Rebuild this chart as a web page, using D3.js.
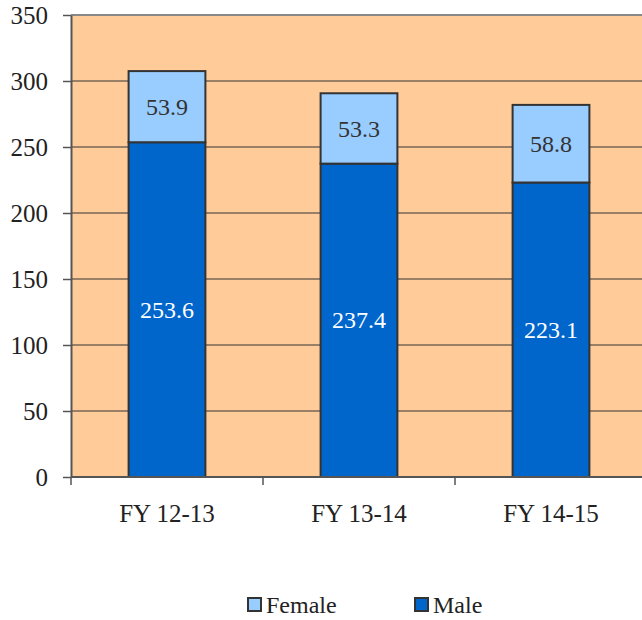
<!DOCTYPE html>
<html>
<head>
<meta charset="utf-8">
<script src="https://cdn.jsdelivr.net/npm/d3@7"></script>
</head>
<body style="margin:0">
<svg id="chart" width="642" height="620" font-family="Times New Roman"></svg>
<script>
// Data
const categories = ["FY 12-13", "FY 13-14", "FY 14-15"];
const male = [253.6, 237.4, 223.1];
const female = [53.9, 53.3, 58.8];
const yTicks = [0, 50, 100, 150, 200, 250, 300, 350];
const seriesNames = ["Male", "Female"];

const colors = { Male: "#0066CC", Female: "#99CCFF" };

const svg = d3.select("#chart");
const plotLeft = 71, plotRight = 647, plotTop = 15, plotBottom = 477;

const x = d3.scaleBand().domain(categories).range([plotLeft, plotRight]);
const y = d3.scaleLinear().domain([0, 350]).range([plotBottom, plotTop]);

// plot background
svg.append("rect")
  .attr("x", plotLeft).attr("y", plotTop)
  .attr("width", plotRight - plotLeft).attr("height", plotBottom - plotTop)
  .attr("fill", "#FFCC99");

// gridlines
svg.selectAll(".grid")
  .data(yTicks.filter(d => d > 0 && d < 350))
  .join("line")
  .attr("class", "grid")
  .attr("x1", plotLeft).attr("x2", plotRight)
  .attr("y1", d => y(d)).attr("y2", d => y(d))
  .attr("stroke", "#333").attr("stroke-width", 1);

// top border
svg.append("line")
  .attr("x1", plotLeft).attr("x2", plotRight)
  .attr("y1", y(350)).attr("y2", y(350))
  .attr("stroke", "#888").attr("stroke-width", 2);

// stacked bars
const table = categories.map((c, i) => ({ cat: c, Male: male[i], Female: female[i] }));
const stacked = d3.stack().keys(seriesNames)(table);
const barW = x.bandwidth() * 0.4;

const layers = svg.selectAll(".layer")
  .data(stacked)
  .join("g")
  .attr("class", "layer")
  .attr("fill", d => colors[d.key]);

layers.selectAll("rect")
  .data(d => d)
  .join("rect")
  .attr("x", d => x(d.data.cat) + (x.bandwidth() - barW) / 2)
  .attr("y", d => y(d[1]))
  .attr("width", barW)
  .attr("height", d => y(d[0]) - y(d[1]))
  .attr("stroke", "#333")
  .attr("stroke-width", 2);

// value labels
stacked.forEach(layer => {
  svg.selectAll(".lbl-" + layer.key)
    .data(layer)
    .join("text")
    .attr("class", "lbl-" + layer.key)
    .attr("x", d => x(d.data.cat) + x.bandwidth() / 2)
    .attr("y", d => (y(d[0]) + y(d[1])) / 2)
    .attr("dy", "0.34em")
    .attr("text-anchor", "middle")
    .attr("font-size", 24)
    .attr("fill", layer.key === "Male" ? "#fff" : "#333")
    .text(d => d3.format(".1f")(d[1] - d[0]));
});

// y axis
const yAxis = svg.append("g")
  .attr("transform", `translate(${plotLeft},0)`)
  .call(d3.axisLeft(y).tickValues(yTicks).tickSize(8).tickPadding(15).tickSizeOuter(0));
yAxis.attr("font-family", "Times New Roman").attr("font-size", 25);
yAxis.select(".domain").attr("stroke", "#555").attr("stroke-width", 2);
yAxis.selectAll(".tick line").attr("stroke", "#555").attr("stroke-width", 1.5);
yAxis.selectAll("text").attr("fill", "#222");

// x axis
const xAxis = svg.append("g")
  .attr("transform", `translate(0,${plotBottom})`)
  .call(d3.axisBottom(x).tickSize(0).tickPadding(27).tickSizeOuter(0));
xAxis.attr("font-family", "Times New Roman").attr("font-size", 25);
xAxis.select(".domain").remove();
xAxis.selectAll("text").attr("fill", "#222");

svg.append("line")
  .attr("x1", plotLeft).attr("x2", plotRight)
  .attr("y1", plotBottom).attr("y2", plotBottom)
  .attr("stroke", "#555").attr("stroke-width", 2);

// category boundary ticks
svg.selectAll(".xtick")
  .data(categories)
  .join("line")
  .attr("class", "xtick")
  .attr("x1", d => x(d)).attr("x2", d => x(d))
  .attr("y1", plotBottom).attr("y2", plotBottom + 8)
  .attr("stroke", "#555").attr("stroke-width", 1.5);

// legend
const legendItems = [
  { key: "Female", x: 248 },
  { key: "Male", x: 415 }
];
const legend = svg.selectAll(".legend")
  .data(legendItems)
  .join("g")
  .attr("class", "legend")
  .attr("transform", d => `translate(${d.x},598)`);
legend.append("rect")
  .attr("width", 13).attr("height", 13)
  .attr("fill", d => colors[d.key])
  .attr("stroke", "#333").attr("stroke-width", 2);
legend.append("text")
  .attr("x", 18).attr("y", 15)
  .attr("font-size", 24)
  .attr("fill", "#222")
  .text(d => d.key);
</script>
</body>
</html>
